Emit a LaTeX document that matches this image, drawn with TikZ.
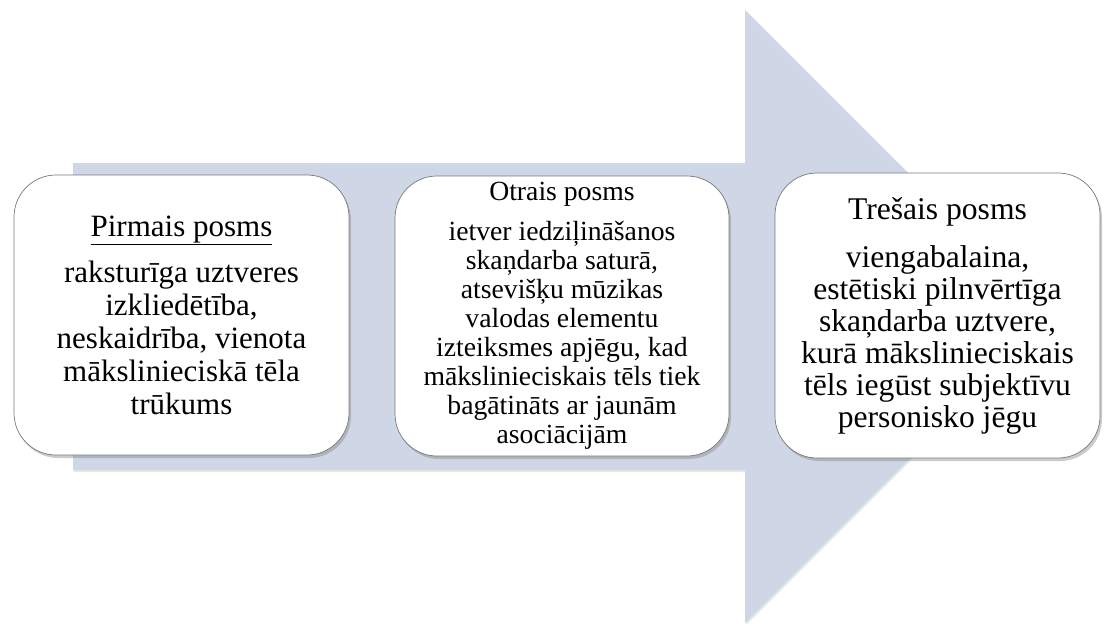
\documentclass[tikz,border=0pt]{standalone}
\usepackage{fontspec}
\setmainfont{Liberation Serif}
\usetikzlibrary{shadows}
\definecolor{arrowfill}{RGB}{207,214,229}
\definecolor{boxline}{RGB}{120,120,120}

\begin{document}
\begin{tikzpicture}[x=1pt,y=-1pt,
  stagebox/.style={draw=boxline,line width=0.7pt,fill=white,rounded corners=42pt,
    drop shadow={opacity=0.4,shadow xshift=2pt,shadow yshift=-3pt},
    align=center,inner sep=0pt},
  bigfont/.style={font=\fontsize{31}{33}\selectfont},
  smallfont/.style={font=\fontsize{27.7}{29}\selectfont}]
\useasboundingbox (0,0) rectangle (1105,625);
% big arrow behind the three stages
\fill[arrowfill,drop shadow={opacity=0.2,shadow xshift=1pt,shadow yshift=-2pt}]
  (73,163) -- (745,163) -- (745,10) -- (1052,316.5) -- (745,623) -- (745,470) -- (73,470) -- cycle;
% stages
\node[stagebox,bigfont,minimum width=335pt,minimum height=280pt] (first) at (181.5,315)
  {\underline{Pirmais posms}\\[13pt]
   raksturīga uztveres\\ izkliedētība,\\ neskaidrība, vienota\\ mākslinieciskā tēla\\ trūkums};
\node[stagebox,smallfont,minimum width=334pt,minimum height=280pt] (second) at (562,316)
  {Otrais posms\\[11pt]
   ietver iedziļināšanos\\ skaņdarba saturā,\\ atsevišķu mūzikas\\ valodas elementu\\
   izteiksmes apjēgu, kad\\ mākslinieciskais tēls tiek\\ bagātināts ar jaunām\\ asociācijām};
\node[stagebox,font=\fontsize{31.6}{32}\selectfont,minimum width=325pt,minimum height=285pt]
  (third) at (937.5,315.5)
  {Trešais posms\\[16pt]
   viengabalaina,\\ estētiski pilnvērtīga\\ skaņdarba uztvere,\\ kurā mākslinieciskais\\
   tēls iegūst subjektīvu\\ personisko jēgu};
\end{tikzpicture}
\end{document}
